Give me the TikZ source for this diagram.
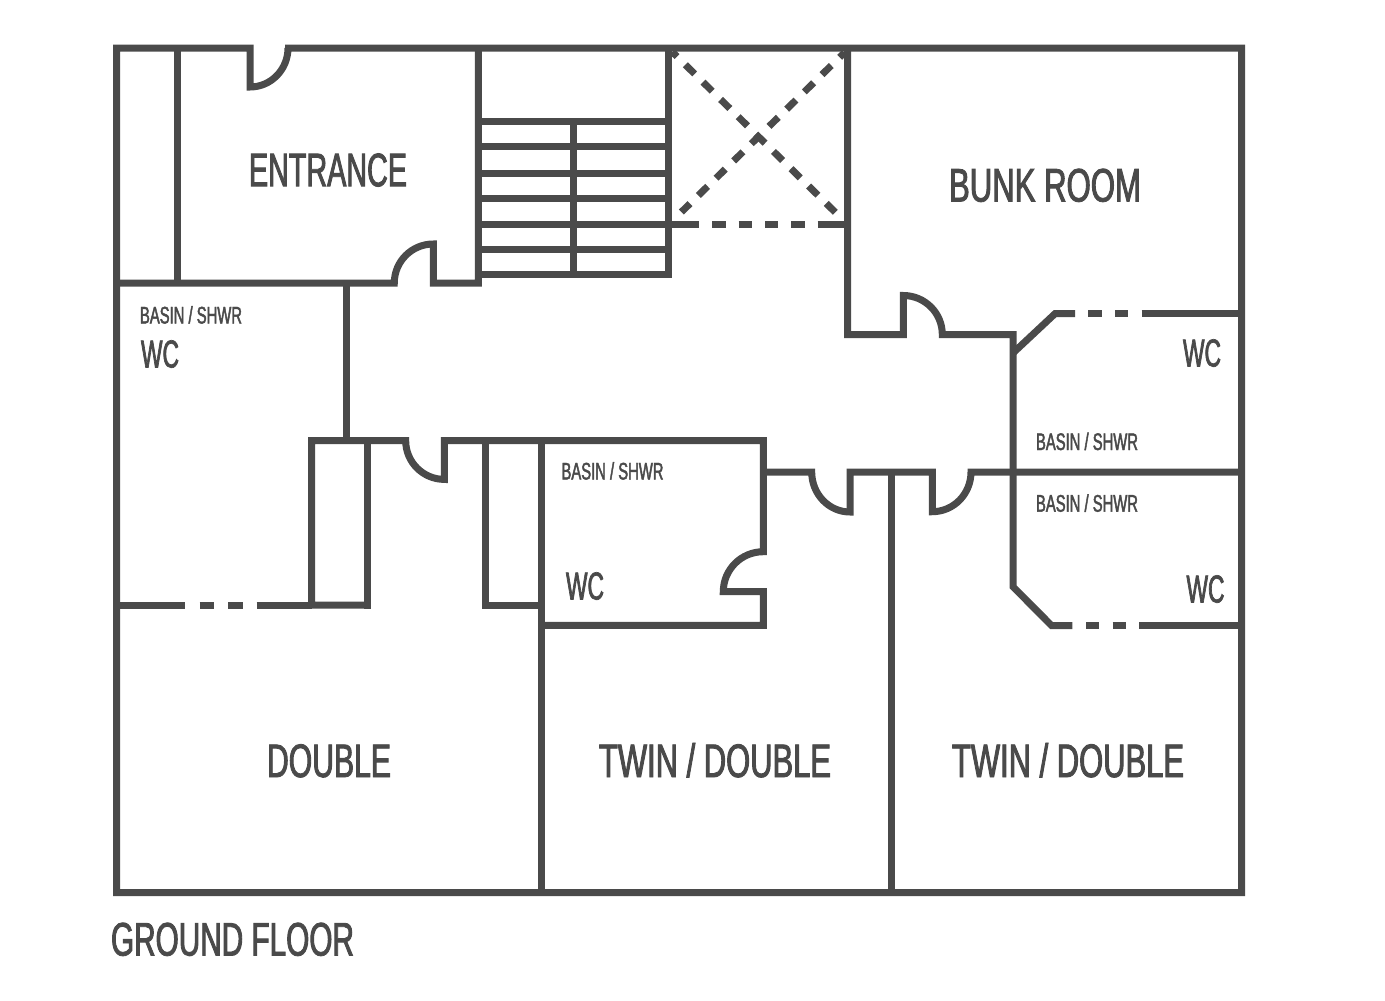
\documentclass[tikz,border=0pt]{standalone}
\usepackage{fontspec}
\usepackage{graphicx}
\setmainfont{Liberation Sans}[FakeStretch=0.6,FakeBold=1.8]
\definecolor{wall}{HTML}{4A4A4A}
\newcommand{\fitw}[2]{\resizebox{#1pt}{\height}{#2}}
\tikzset{
  wallline/.style={draw=wall,line width=7pt,line cap=butt,line join=miter},
  crossline/.style={wallline,dash pattern=on 13pt off 11.7pt,dash phase=6.5pt},
  bigtext/.style={anchor=base,inner sep=0pt,text=wall,font=\fontsize{47}{47}\selectfont},
  wctext/.style={anchor=base,inner sep=0pt,text=wall,font=\fontsize{39}{39}\selectfont},
  smalltext/.style={anchor=base,inner sep=0pt,text=wall,font=\fontsize{24}{24}\selectfont}
}
\begin{document}
\begin{tikzpicture}[x=1pt,y=-1pt]
\useasboundingbox[fill=white] (0,0) rectangle (1385,1001);
% outer walls with top entrance door
\draw[wallline] (285,48) -- (1241.5,48) -- (1241.5,892.5) -- (116.5,892.5) -- (116.5,48) -- (250,48) -- (250,87) arc[start angle=90,end angle=0,x radius=38,y radius=39];
% entrance
\draw[wallline] (177,48) -- (177,283);
\draw[wallline] (116.5,283) -- (394.3,283) arc[start angle=180,end angle=270,radius=39] -- (433.3,283) -- (478.3,283) -- (478.3,48);
\draw[wallline] (346,283) -- (346,440.7);
% stairs
\draw[wallline] (668.3,48) -- (668.3,274.7) -- (478.3,274.7);
\foreach \yy in {121.7,146.7,173.3,198.3,224.7,249.7}
  \draw[wallline] (478.3,\yy) -- (668.3,\yy);
\draw[wallline] (573.3,121.7) -- (573.3,274.7);
% void
\draw[crossline] (672.4,52) -- (835.3,212.3);
\draw[crossline] (844.3,52.8) -- (681.4,212);
\draw[wallline] (668.3,224.7) -- (699,224.7);
\draw[wallline] (712.3,224.7) -- (726,224.7);
\draw[wallline] (738.7,224.7) -- (752,224.7);
\draw[wallline] (765,224.7) -- (778.3,224.7);
\draw[wallline] (791.3,224.7) -- (804.7,224.7);
\draw[wallline] (817.7,224.7) -- (847.7,224.7);
% bunk room
\draw[wallline] (847.7,48) -- (847.7,334.5) -- (903.3,334.5) -- (903.3,295.5) arc[start angle=270,end angle=360,radius=39] -- (1013,334.5) -- (1013,586.7) -- (1051.7,625.7) -- (1072.3,625.7);
% right WCs
\draw[wallline] (1013,353) -- (1055,313.7) -- (1075,313.7);
\draw[wallline] (1088.3,313.7) -- (1102,313.7);
\draw[wallline] (1115,313.7) -- (1128,313.7);
\draw[wallline] (1141.7,313.7) -- (1241.5,313.7);
\draw[wallline] (1086,625.7) -- (1099,625.7);
\draw[wallline] (1112.7,625.7) -- (1126,625.7);
\draw[wallline] (1139.3,625.7) -- (1241.5,625.7);
% corridor south wall
\draw[wallline] (367.7,605) -- (311.7,605) -- (311.7,440.7) -- (405.7,440.7) arc[start angle=180,end angle=90,radius=38.7] -- (444.4,440.7) -- (763.3,440.7) -- (763.3,551.7) arc[start angle=270,end angle=180,radius=40] -- (763.3,591.7) -- (763.3,625.3) -- (541.7,625.3);
\draw[wallline] (367.7,440.7) -- (367.7,608.5);
\draw[wallline] (116.5,605) -- (185,605);
\draw[wallline] (199.7,605) -- (214,605);
\draw[wallline] (228,605) -- (242.5,605);
\draw[wallline] (256.5,605) -- (311.7,605);
\draw[wallline] (541.7,605) -- (485.7,605) -- (485.7,440.7);
\draw[wallline] (541.7,440.7) -- (541.7,892.5);
\draw[wallline] (763.3,472) -- (811.7,472) arc[start angle=180,end angle=90,x radius=38.3,y radius=40] -- (850,472) -- (932.3,472) -- (932.3,511.7) arc[start angle=90,end angle=0,x radius=38.7,y radius=39.7] -- (1241.5,472);
\draw[wallline] (891.7,472) -- (891.7,892.5);
% labels
\node[bigtext] (entrance) at (328,186.2) {\fitw{158}{ENTRANCE}};
\node[bigtext] (bunk) at (1045,201.5) {\fitw{192}{BUNK ROOM}};
\node[bigtext] (double) at (329,777) {\fitw{124}{DOUBLE}};
\node[bigtext] (twina) at (715,777) {\fitw{232}{TWIN / DOUBLE}};
\node[bigtext] (twinb) at (1068,777) {\fitw{232}{TWIN / DOUBLE}};
\node[bigtext] (ground) at (232.5,955.5) {\fitw{243}{GROUND FLOOR}};
\node[wctext] (wca) at (160,367.5) {\fitw{38}{WC}};
\node[wctext] (wcb) at (585,599.5) {\fitw{38}{WC}};
\node[wctext] (wcc) at (1202,366.5) {\fitw{38}{WC}};
\node[wctext] (wcd) at (1205.5,602.5) {\fitw{38}{WC}};
\node[smalltext] (basa) at (191,323.5) {\fitw{102}{BASIN / SHWR}};
\node[smalltext] (basb) at (612.5,479.5) {\fitw{102}{BASIN / SHWR}};
\node[smalltext] (basc) at (1087,450) {\fitw{102}{BASIN / SHWR}};
\node[smalltext] (basd) at (1087,511.7) {\fitw{102}{BASIN / SHWR}};
\end{tikzpicture}
\end{document}
